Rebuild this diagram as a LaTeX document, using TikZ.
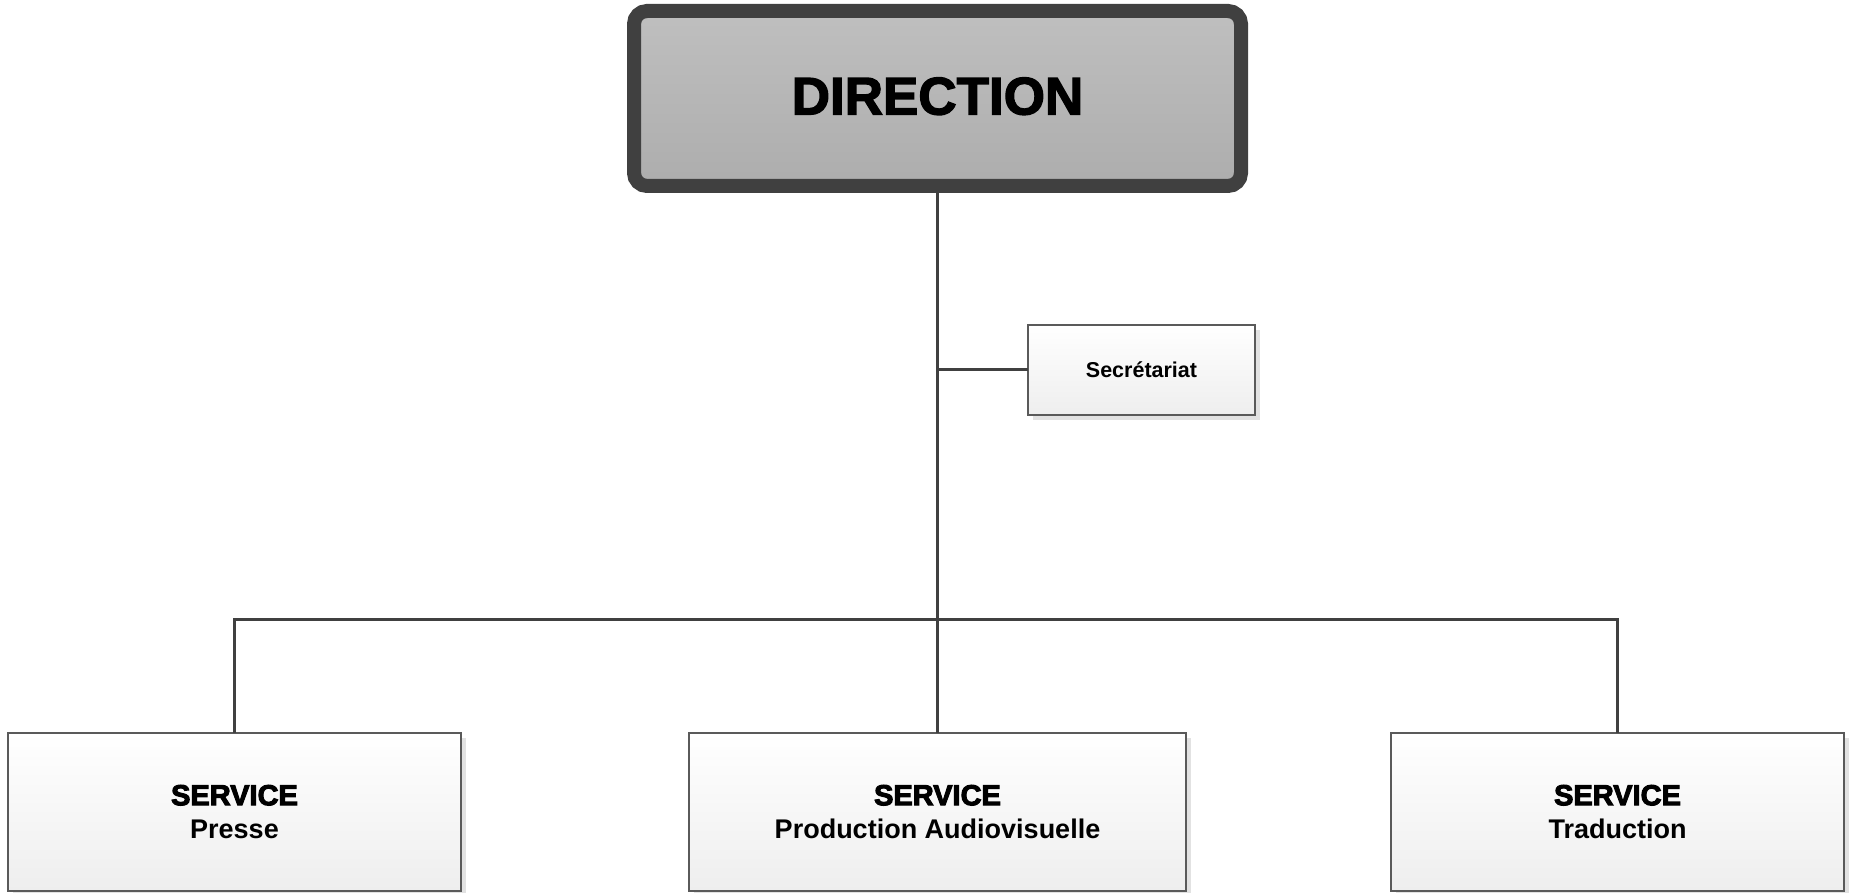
\documentclass[tikz,border=0pt]{standalone}
\usepackage{fontspec}
\setmainfont{Liberation Sans}
\newfontfamily\heavyfont[FakeBold=3.5]{Liberation Sans Bold}
\newfontfamily\dirfont[FakeBold=2.5]{Liberation Sans Bold}
\definecolor{darkline}{HTML}{404040}
\definecolor{dirtop}{HTML}{BFBFBF}
\definecolor{dirbot}{HTML}{ADADAD}
\definecolor{boxline}{HTML}{5A5A5A}
\definecolor{boxbot}{HTML}{EEEEEE}
\definecolor{shade}{HTML}{E2E2E2}
\tikzset{
  dirbox/.style={draw=darkline, line width=14pt, rounded corners=13pt,
    top color=dirtop, bottom color=dirbot, inner sep=0pt, outer sep=0pt,
    minimum width=607pt, minimum height=175pt,
    preaction={fill=shade, transform canvas={xshift=4pt,yshift=-4pt}}},
  unitbox/.style={draw=boxline, line width=1.4pt, top color=white, bottom color=boxbot,
    inner sep=0pt, outer sep=0pt, align=center,
    font=\bfseries\fontsize{27}{32.5}\selectfont,
    preaction={fill=shade, transform canvas={xshift=5pt,yshift=-5pt}}},
  link/.style={draw=darkline, line width=3pt}
}
\begin{document}
\begin{tikzpicture}[x=1pt,y=1pt]
\useasboundingbox (0,0) rectangle (1849,893);
% nodes
\node[dirbox] (dir) at (937.5,794.5) {\raisebox{5pt}{\dirfont\fontsize{53}{58}\selectfont DIRECTION}};
\node[unitbox, minimum width=227pt, minimum height=90pt, font=\bfseries\fontsize{21.5}{26}\selectfont] (sec) at (1141.5,523)
  {Secrétariat};
\node[unitbox, minimum width=453pt, minimum height=158pt] (presse) at (234.5,81)
  {\raisebox{1pt}{\heavyfont\fontsize{29}{32.5}\selectfont SERVICE}\\Presse};
\node[unitbox, minimum width=497pt, minimum height=158pt] (prod) at (937.5,81)
  {\raisebox{1pt}{\heavyfont\fontsize{29}{32.5}\selectfont SERVICE}\\Production Audiovisuelle};
\node[unitbox, minimum width=453pt, minimum height=158pt] (trad) at (1617.5,81)
  {\raisebox{1pt}{\heavyfont\fontsize{29}{32.5}\selectfont SERVICE}\\Traduction};
% connectors
\coordinate (bus) at (937.5,273);
\coordinate (secjoin) at (dir.south |- sec.west);
\draw[link] (dir.south) -- (prod.north);
\draw[link] (secjoin) -- (sec.west);
\draw[link] (presse.north) |- (bus) -| (trad.north);
\end{tikzpicture}
\end{document}
